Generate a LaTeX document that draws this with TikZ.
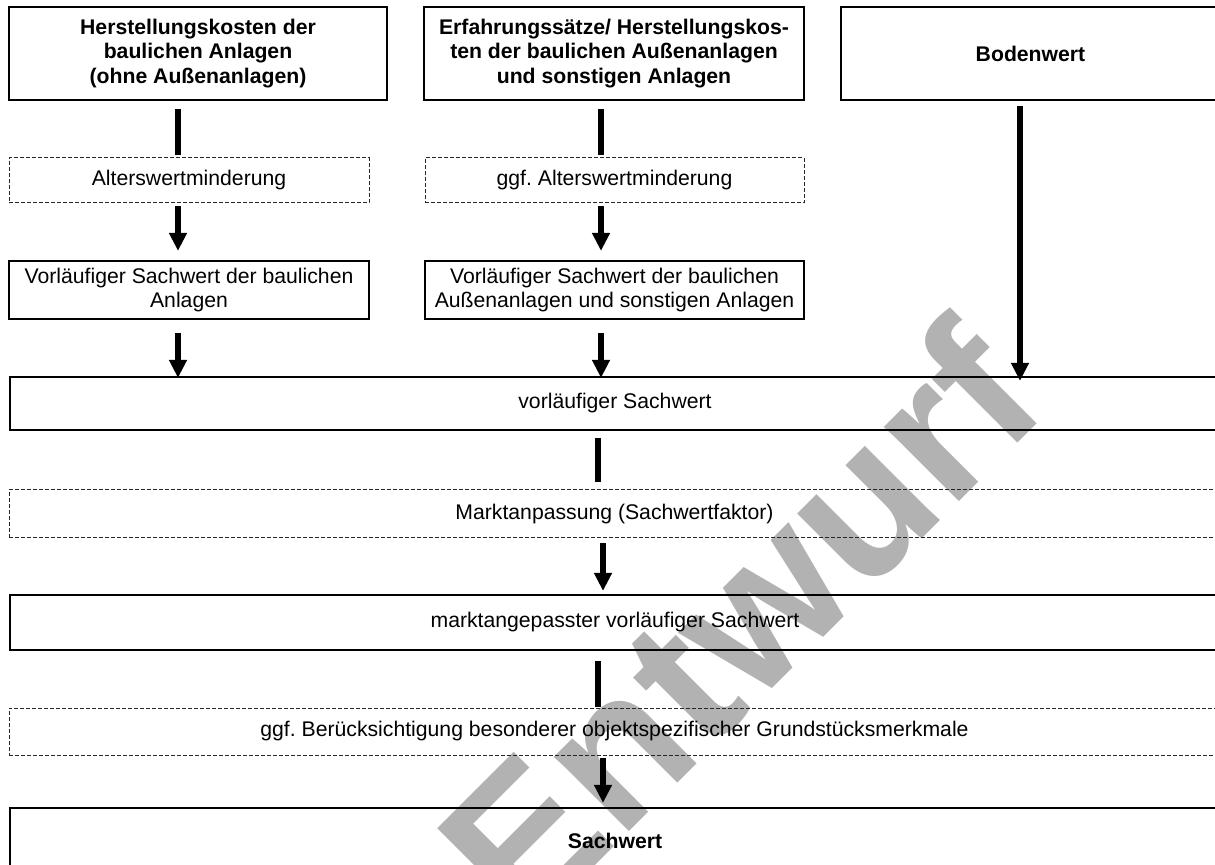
\documentclass[tikz,border=0pt]{standalone}
\usepackage{fontspec}
\setmainfont{Liberation Sans}
\usetikzlibrary{arrows.meta}

\begin{document}
\frenchspacing
\begin{tikzpicture}[x=0.5pt,y=-0.5pt,
        font=\fontsize{10.6}{11.8}\selectfont,
        box/.style={draw,line width=1.1pt,inner sep=0pt,align=center},
        fett/.style={font=\fontsize{10.6}{12.25}\selectfont\bfseries},
        dbox/.style={draw=black!85,dash pattern=on 2pt off 1pt,line width=0.5pt,inner sep=0pt,align=center},
        bar/.style={line width=2.6pt},
        arr/.style={line width=2.6pt,-{Triangle[width=8.5pt,length=9pt]}}]
        \useasboundingbox (0,0) rectangle (1215,865);
        \clip (0,0) rectangle (1215,865);

        % Wasserzeichen
        \node (wz) [rotate=45,text=black!30,font=\fontsize{100}{100}\selectfont\bfseries] at (738,622) {Entwurf};

        % Spalten
        \coordinate (k1) at (178,0);
        \coordinate (k2) at (601,0);
        \coordinate (k3) at (1020,0);
        \coordinate (km) at (598,0);
        \coordinate (kp) at (603,0);

        % links
        \node (hk1) [box,fett,line width=1.3pt,minimum width=189pt,minimum height=46.5pt] at (198,53.5) {Herstellungskosten der\\baulichen Anlagen\\(ohne Außenanlagen)};
        \node (aw1) [dbox,minimum width=180pt,minimum height=22.5pt] at (189,180.5) {Alterswertminderung};
        \node (vs1) [box,minimum width=180pt,minimum height=29pt] at (189,290) {Vorläufiger Sachwert der baulichen\\Anlagen};

        % mitte
        \node (hk2) [box,fett,line width=1.3pt,minimum width=190pt,minimum height=46.5pt] at (614,53.5) {Erfahrungssätze/ Herstellungskos-\\ten der baulichen Außenanlagen\\und sonstigen Anlagen};
        \node (aw2) [dbox,minimum width=189.5pt,minimum height=22.5pt] at (614.5,180.5) {ggf. Alterswertminderung};
        \node (vs2) [box,minimum width=189.5pt,minimum height=29pt] at (614.5,290) {Vorläufiger Sachwert der baulichen\\Außenanlagen und sonstigen Anlagen};

        % rechts
        \node (bw) [box,fett,line width=1.3pt,minimum width=189.5pt,minimum height=46.5pt] at (1030.5,53.5) {Bodenwert};

        % unten, ueber die ganze Breite
        \node (vsw) [box,minimum width=605pt,minimum height=26.5pt] at (615,403.5) {vorläufiger Sachwert};
        \node (ma) [dbox,minimum width=605.5pt,minimum height=24pt] at (614.5,514) {Marktanpassung (Sachwertfaktor)};
        \node (mvs) [box,minimum width=605pt,minimum height=27.5pt] at (615,622.5) {marktangepasster vorläufiger Sachwert};
        \node (bes) [dbox,minimum width=605.5pt,minimum height=23.5pt] at (614.5,731.5) {ggf. Berücksichtigung besonderer objektspezifischer Grundstücksmerkmale};
        \node (sw) [box,fett,minimum width=605pt,minimum height=33pt] at (615,841) {Sachwert};

        \draw [bar,shorten <=4pt,shorten >=1pt] (hk1.south -| k1) -- (aw1.north -| k1);
        \draw [arr,shorten <=1.5pt,shorten >=4.5pt] (aw1.south -| k1) -- (vs1.north -| k1);
        \draw [arr,shorten <=6.5pt,shorten >=-1pt] (vs1.south -| k1) -- (vsw.north -| k1);

        \draw [bar,shorten <=4pt,shorten >=1pt] (hk2.south -| k2) -- (aw2.north -| k2);
        \draw [arr,shorten <=1.5pt,shorten >=4.5pt] (aw2.south -| k2) -- (vs2.north -| k2);
        \draw [arr,shorten <=6.5pt,shorten >=-1pt] (vs2.south -| k2) -- (vsw.north -| k2);

        \draw [arr,shorten <=2.5pt,shorten >=-2.5pt] (bw.south -| k3) -- (vsw.north -| k3);

        \draw [bar,shorten <=3.5pt,shorten >=3.5pt] (vsw.south -| km) -- (ma.north -| km);
        \draw [arr,shorten <=2.5pt,shorten >=1.5pt] (ma.south -| kp) -- (mvs.north -| kp);
        \draw [bar,shorten <=5pt,shorten >=0.5pt] (mvs.south -| km) -- (bes.north -| km);
        \draw [arr,shorten <=1pt,shorten >=2pt] (bes.south -| kp) -- (sw.north -| kp);
\end{tikzpicture}
\end{document}
